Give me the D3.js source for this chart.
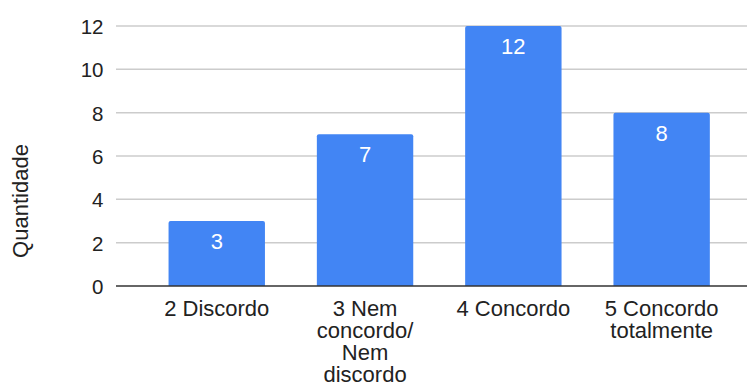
<!DOCTYPE html>
<html>
<head>
<meta charset="utf-8">
<script src="https://cdn.jsdelivr.net/npm/d3@7"></script>
<style>
  html, body { margin: 0; padding: 0; background: #fff; }
  svg { display: block; }
  text { font-family: "Liberation Sans", Arial, sans-serif; }
</style>
</head>
<body>
<svg id="chart" width="747" height="385"></svg>
<script>
// Responses per agreement level
const categories = ["2 Discordo", "3 Nem concordo/ Nem discordo", "4 Concordo", "5 Concordo totalmente"];
const counts = [3, 7, 12, 8];
const yTicks = [0, 2, 4, 6, 8, 10, 12];
const yTitle = "Quantidade";

const plotLeft = 116, plotRight = 747;
const svg = d3.select("#chart");

const y = d3.scaleLinear().domain([0, 12]).range([286, 26]);
const x = d3.scaleBand()
  .domain(categories)
  .range([142.6, 735.8])
  .paddingInner(0.35)
  .paddingOuter(0.175);

// horizontal gridlines
svg.append("g")
  .selectAll("line")
  .data(yTicks.filter(d => d !== 0))
  .join("line")
  .attr("x1", plotLeft).attr("x2", plotRight)
  .attr("y1", d => y(d)).attr("y2", d => y(d))
  .attr("stroke", "#cccccc")
  .attr("stroke-width", 1.5);

// y axis labels
const yAxis = d3.axisLeft(y).tickValues(yTicks).tickSize(0).tickPadding(0);
const gy = svg.append("g").attr("transform", `translate(103.5,0)`).call(yAxis);
gy.select(".domain").remove();
gy.selectAll("text")
  .attr("font-size", 20.5)
  .attr("fill", "#222")
  .attr("font-family", "'Liberation Sans', Arial, sans-serif")
  .attr("dy", "0.36em");

// bars with slightly rounded tops
function barPath(x0, w, yTop, yBase, r) {
  return `M${x0},${yBase}V${yTop + r}Q${x0},${yTop} ${x0 + r},${yTop}` +
         `H${x0 + w - r}Q${x0 + w},${yTop} ${x0 + w},${yTop + r}V${yBase}Z`;
}
svg.append("g")
  .selectAll("path")
  .data(categories)
  .join("path")
  .attr("d", (c, i) => barPath(x(c), x.bandwidth(), y(counts[i]), y(0), 2))
  .attr("fill", "#4285f4");

// value labels inside bars
svg.append("g")
  .selectAll("text")
  .data(categories)
  .join("text")
  .attr("x", c => x(c) + x.bandwidth() / 2)
  .attr("y", (c, i) => y(counts[i]) + 20)
  .attr("dy", "0.36em")
  .attr("text-anchor", "middle")
  .attr("font-size", 22)
  .attr("fill", "#ffffff")
  .text((c, i) => counts[i]);

// baseline
svg.append("line")
  .attr("x1", plotLeft).attr("x2", plotRight)
  .attr("y1", y(0)).attr("y2", y(0))
  .attr("stroke", "#333333")
  .attr("stroke-width", 1.6);

// category labels, wrapped to a max width
const labelSize = 22;
const maxLabelWidth = 130;
const labelG = svg.append("g");
categories.forEach(c => {
  const t = labelG.append("text")
    .attr("text-anchor", "middle")
    .attr("font-size", labelSize)
    .attr("fill", "#222");
  const cx = x(c) + x.bandwidth() / 2;
  const words = c.split(" ");
  const lines = [];
  let line = [];
  const probe = labelG.append("text").attr("font-size", labelSize);
  words.forEach(w => {
    const trial = line.concat([w]).join(" ");
    probe.text(trial);
    if (line.length && probe.node().getComputedTextLength() > maxLabelWidth) {
      lines.push(line.join(" "));
      line = [w];
    } else {
      line.push(w);
    }
  });
  lines.push(line.join(" "));
  probe.remove();
  lines.forEach((l, i) => {
    t.append("tspan").attr("x", cx).attr("y", 315.5 + i * 22.2).text(l);
  });
});

// y axis title
svg.append("text")
  .attr("transform", `translate(28,201) rotate(-90)`)
  .attr("text-anchor", "middle")
  .attr("font-size", 22)
  .attr("fill", "#222")
  .text(yTitle);
</script>
</body>
</html>
